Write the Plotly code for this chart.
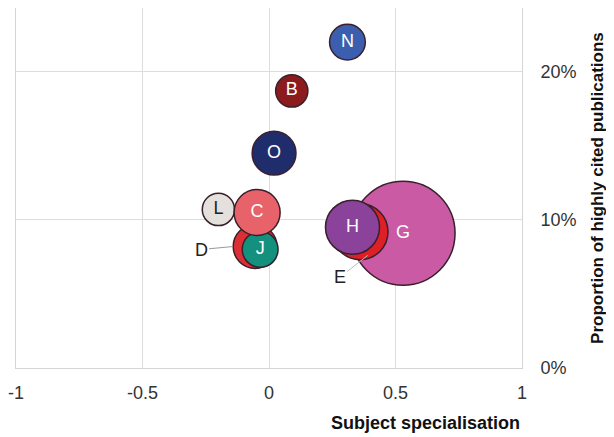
import plotly.graph_objects as go

# bubble data (drawn back to front)
labels = ['G', 'E', 'H', 'L', 'D', 'J', 'C', 'O', 'B', 'N']
specialisation = [0.53, 0.36, 0.33, -0.20, -0.055, -0.035, -0.047, 0.02, 0.09, 0.31]
highly_cited = [0.091, 0.092, 0.095, 0.107, 0.082, 0.080, 0.105, 0.145, 0.187, 0.220]
publications = [27.0, 7.8, 7.3, 2.6, 4.8, 3.2, 5.3, 4.8, 2.6, 3.2]

# these two are mostly hidden, so they get labels outside
outside = ['D', 'E']

colors = ['#c95aa3', '#dd1f26', '#8a429b', '#e4e1dc', '#dc2f33', '#14907f',
          '#e8626a', '#202d6c', '#8c1b1e', '#3b5fae']
text_colors = ['white'] * 3 + ['#222222'] + ['white'] * 6

x_ticks = [-1, -0.5, 0, 0.5, 1]
x_ticktext = ['-1', '-0.5', '0', '0.5', '1']
y_ticks = [0, 0.1, 0.2]
y_ticktext = ['0%', '10%', '20%']

FONT = 'Liberation Sans, Arial, sans-serif'

inside_text = ['' if lab in outside else lab for lab in labels]

fig = go.Figure()

fig.add_trace(go.Scatter(
    x=specialisation,
    y=highly_cited,
    mode='markers+text',
    text=inside_text,
    customdata=labels,
    textposition='middle center',
    textfont=dict(family=FONT, size=18, color=text_colors),
    marker=dict(
        size=publications,
        sizemode='area',
        sizeref=1 / 200,
        color=colors,
        opacity=1,
        line=dict(color='#3a1f2c', width=1.5),
    ),
    hovertemplate='%{customdata}<br>%{x:.2f}, %{y:.1%}<extra></extra>',
    showlegend=False,
    cliponaxis=False,
))

# outside labels with leader lines for partly hidden bubbles
d_i = labels.index('D')
e_i = labels.index('E')
fig.add_annotation(
    x=specialisation[d_i] - 0.087, y=highly_cited[d_i],
    ax=-32, ay=3, text='D', showarrow=True, arrowhead=0,
    arrowwidth=1, arrowcolor='#999999',
    font=dict(family=FONT, size=18, color='#222222'),
)
fig.add_annotation(
    x=specialisation[e_i] + 0.03, y=highly_cited[e_i] - 0.016,
    ax=-28, ay=22, text='E', showarrow=True, arrowhead=0,
    arrowwidth=1, arrowcolor='#bbbbbb',
    font=dict(family=FONT, size=18, color='#222222'),
)

fig.add_annotation(
    text='<b>Subject specialisation</b>',
    xref='paper', yref='paper', x=1.0, y=-0.153,
    xanchor='right', yanchor='middle', showarrow=False,
    font=dict(family=FONT, size=18, color='#111111'),
)
fig.add_annotation(
    text='<b>Proportion of highly cited publications</b>',
    xref='paper', yref='paper', x=1.148, y=0.5,
    xanchor='center', yanchor='middle', textangle=-90, showarrow=False,
    font=dict(family=FONT, size=17, color='#111111'),
)

# the page body adds an 8px offset, margins account for it
fig.update_layout(
    width=614,
    height=437,
    margin=dict(l=8, r=100, t=0, b=77),
    paper_bgcolor='white',
    plot_bgcolor='white',
    font=dict(family=FONT, size=17, color='#333333'),
    xaxis=dict(
        range=[-1, 1],
        tickvals=x_ticks,
        ticktext=x_ticktext,
        automargin=False,
        ticklabeloverflow='allow',
        showgrid=True,
        gridcolor='#dddddd',
        gridwidth=1,
        zeroline=False,
        showline=True,
        linecolor='#d4d4d4',
        mirror=False,
        ticks='',
        ticklabelstandoff=8,
        tickfont=dict(size=18),
    ),
    yaxis=dict(
        range=[0, 0.243],
        side='right',
        tickvals=y_ticks,
        ticktext=y_ticktext,
        automargin=False,
        showgrid=True,
        gridcolor='#dddddd',
        gridwidth=1,
        zeroline=False,
        showline=True,
        linecolor='#d4d4d4',
        mirror=True,
        ticks='',
        ticklabelstandoff=14,
        tickfont=dict(size=18),
    ),
)

fig.write_html('out.html')
